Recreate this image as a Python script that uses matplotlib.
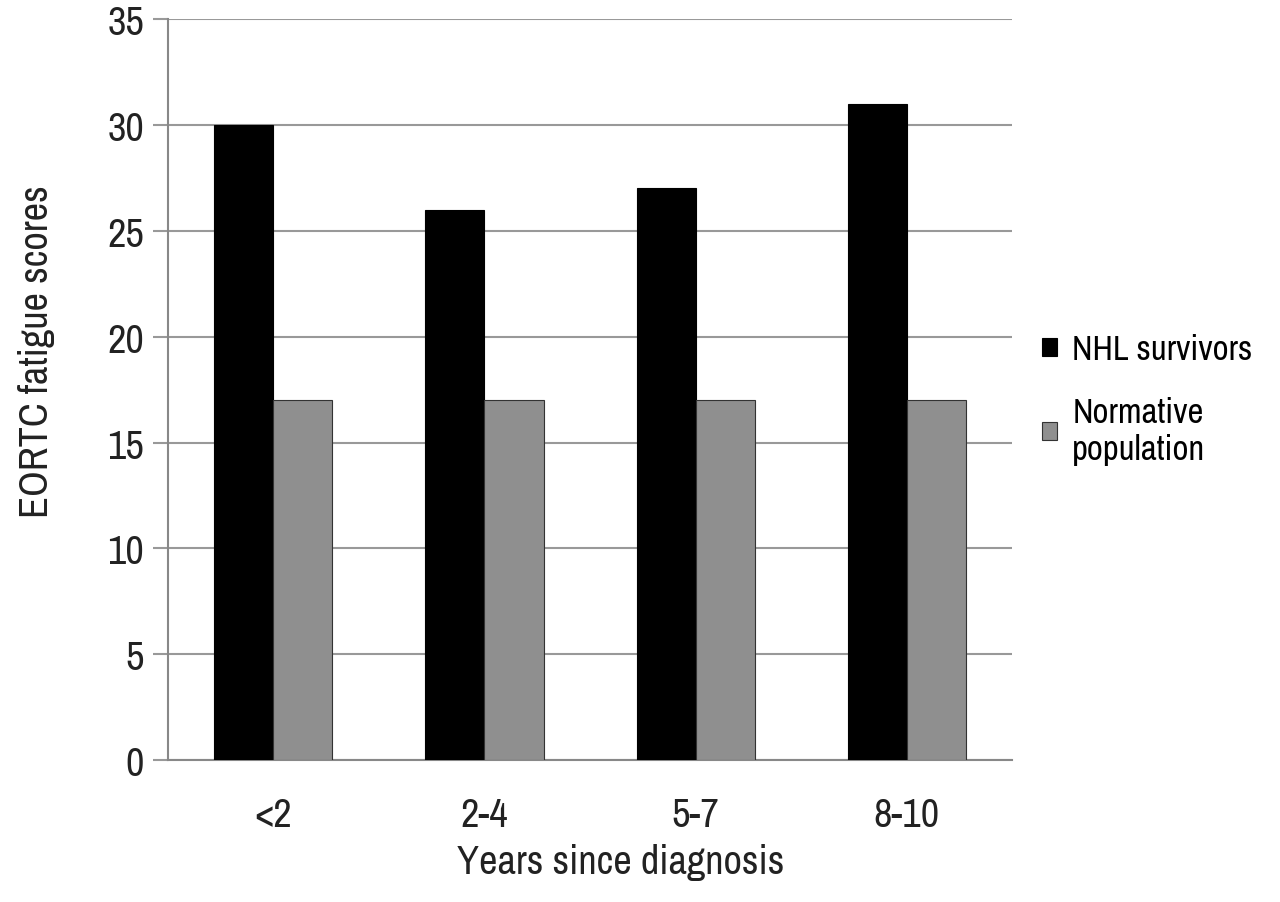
import matplotlib.pyplot as plt
import numpy as np
from matplotlib import font_manager

# Data
categories = ["<2", "2-4", "5-7", "8-10"]
nhl_survivors = [30, 26, 27, 31]
normative = [17, 17, 17, 17]

fams = sorted({(f.name, f.stretch) for f in font_manager.fontManager.ttflist})
narrow = [n for n, s in fams if 'Narrow' in n or 'Condensed' in n]
plt.rcParams['font.family'] = narrow[:1] + ['DejaVu Sans'] if narrow else ['DejaVu Sans']
plt.rcParams['font.stretch'] = 'condensed'

x = np.arange(len(categories))
width = 0.28

fig = plt.figure(figsize=(12.8, 9.03), dpi=100)
ax = fig.add_axes([0.131, 0.157, 0.66, 0.821])

ax.bar(x - width/2, nhl_survivors, width, color="black", edgecolor="black", linewidth=0.8,
       label="NHL survivors", zorder=3)
ax.bar(x + width/2, normative, width, color="#8f8f8f", edgecolor="#333333", linewidth=0.8,
       label="Normative\npopulation", zorder=3)

ax.set_xlim(-0.5, len(categories) - 0.5)
ax.set_ylim(0, 35)
ax.set_yticks(np.arange(0, 36, 5))
ax.set_xticks(x)
ax.set_xticklabels(categories)
ax.tick_params(axis='both', labelsize=29, colors="#222222")
ax.tick_params(axis='y', length=11, width=1.5, color="#999999", pad=6)
ax.tick_params(axis='x', length=0, pad=26)
ax.grid(axis='y', color="#999999", linewidth=1.5, zorder=0)

for s in ["top", "right"]:
    ax.spines[s].set_visible(False)
for s in ["left", "bottom"]:
    ax.spines[s].set_color("#888888")
    ax.spines[s].set_linewidth(1.5)

ax.set_xlabel("Years since diagnosis", fontsize=29, color="#222222")
ax.set_ylabel("EORTC fatigue scores", fontsize=29, color="#222222")
ax.xaxis.set_label_coords(0.536, -0.112)
ax.yaxis.set_label_coords(-0.133, 0.553)

ax.legend(loc="center left", bbox_to_anchor=(1.035, 0.487), frameon=False, fontsize=25,
          borderaxespad=0, borderpad=0, handlelength=0.42, handleheight=0.42,
          handletextpad=0.45, labelspacing=0.9)

fig.savefig("out.png", dpi=100)
